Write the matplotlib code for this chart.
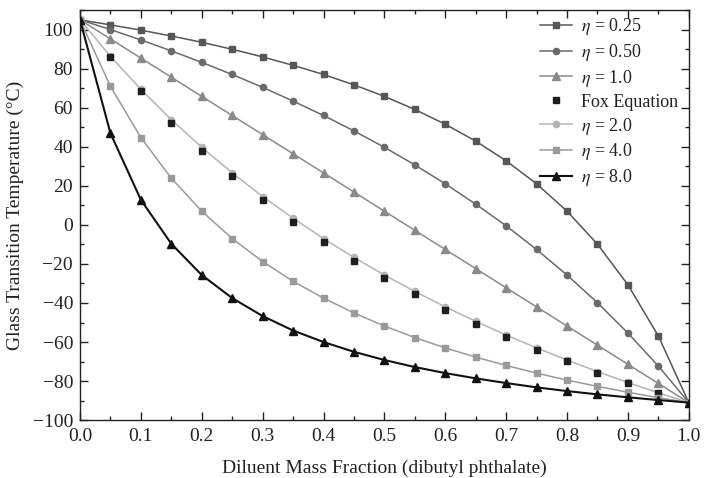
import numpy as np
import matplotlib
matplotlib.use("Agg")
import matplotlib.pyplot as plt
from matplotlib.ticker import MultipleLocator, FormatStrFormatter

plt.rcParams['font.family'] = ['Liberation Serif', 'DejaVu Serif']
plt.rcParams['mathtext.fontset'] = 'stix'

# ----------------------------
# data
# ----------------------------
w = [0.0, 0.05, 0.1, 0.15, 0.2, 0.25, 0.3, 0.35, 0.4, 0.45, 0.5,
     0.55, 0.6, 0.65, 0.7, 0.75, 0.8, 0.85, 0.9, 0.95, 1.0]

eta_025 = [105, 102.4, 99.7, 96.7, 93.5, 89.9, 86.0, 81.7, 77.0, 71.7, 65.8,
           59.1, 51.5, 42.9, 32.8, 21.0, 7.0, -9.9, -30.7, -56.9, -91]
eta_050 = [105, 100.0, 94.7, 89.1, 83.2, 77.0, 70.4, 63.4, 56.0, 48.1, 39.7,
           30.7, 21.0, 10.6, -0.5, -12.6, -25.7, -39.9, -55.4, -72.3, -91]
eta_100 = [105, 95.2, 85.4, 75.6, 65.8, 56.0, 46.2, 36.4, 26.6, 16.8, 7.0,
           -2.8, -12.6, -22.4, -32.2, -42.0, -51.8, -61.6, -71.4, -81.2, -91]
eta_200 = [105, 86.3, 69.4, 53.9, 39.7, 26.6, 14.5, 3.4, -7.0, -16.7, -25.7,
           -34.1, -42.0, -49.4, -56.4, -63.0, -69.2, -75.1, -80.7, -86.0, -91]
eta_400 = [105, 70.9, 44.7, 23.9, 7.0, -7.0, -18.8, -28.9, -37.5, -45.1, -51.8,
           -57.7, -63.0, -67.7, -72.0, -75.9, -79.5, -82.7, -85.7, -88.5, -91]
eta_800 = [105, 46.9, 12.8, -9.7, -25.7, -37.5, -46.7, -54.1, -60.0, -65.0, -69.2,
           -72.8, -75.9, -78.6, -81.0, -83.2, -85.1, -86.8, -88.3, -89.7, -91]

w_fox = [0.05, 0.1, 0.15, 0.2, 0.25, 0.3, 0.35, 0.4, 0.45, 0.5,
         0.55, 0.6, 0.65, 0.7, 0.75, 0.8, 0.85, 0.9, 0.95]
fox = [85.7, 68.3, 52.4, 38.0, 24.8, 12.7, 1.5, -8.8, -18.4, -27.3,
       -35.6, -43.4, -50.6, -57.5, -63.9, -69.9, -75.6, -81.0, -86.2]

# ----------------------------
# plot
# ----------------------------
fig = plt.figure(figsize=(7.05, 4.78), dpi=100)
ax = fig.add_axes([0.1135, 0.121, 0.8635, 0.858])

ax.plot(w, eta_025, '-s', color='#565656', lw=1.1, ms=5, label=r'$\eta$ = 0.25', zorder=3)
ax.plot(w, eta_050, '-o', color='#6a6a6a', lw=1.1, ms=4.5, label=r'$\eta$ = 0.50', zorder=3)
ax.plot(w, eta_100, '-^', color='#8a8a8a', lw=1.1, ms=5.5, label=r'$\eta$ = 1.0', zorder=3)
ax.plot(w_fox, fox, 's', color='#1e1e1e', ms=5, label='Fox Equation', zorder=5)
ax.plot(w, eta_200, '-o', color='#b4b4b4', lw=1.1, ms=4.5, label=r'$\eta$ = 2.0', zorder=4)
ax.plot(w, eta_400, '-s', color='#9a9a9a', lw=1.1, ms=5, label=r'$\eta$ = 4.0', zorder=6)
ax.plot(w, eta_800, '-^', color='#111111', lw=1.5, ms=6, label=r'$\eta$ = 8.0', zorder=7)

ax.set_xlim(0, 1.0)
ax.set_ylim(-100, 110)
ax.xaxis.set_major_locator(MultipleLocator(0.1))
ax.xaxis.set_minor_locator(MultipleLocator(0.05))
ax.xaxis.set_major_formatter(FormatStrFormatter('%.1f'))
ax.set_yticks(np.arange(-100, 101, 20))
ax.yaxis.set_minor_locator(MultipleLocator(10))

ax.tick_params(which='both', direction='in', top=True, right=True, labelsize=14, colors='#222222')
ax.tick_params(which='major', length=6, width=1)
ax.tick_params(which='minor', length=3, width=1)
ax.tick_params(axis='x', which='major', pad=6)
ax.tick_params(axis='y', which='major', pad=5)
for s in ax.spines.values():
    s.set_linewidth(1.0)
    s.set_color('#222222')

ax.set_xlabel("Diluent Mass Fraction (dibutyl phthalate)", fontsize=14, color='#222222', labelpad=10)
ax.set_ylabel("Glass Transition Temperature (°C)", fontsize=14, color='#222222', labelpad=6)

ax.legend(loc='upper right', frameon=False, fontsize=13, handlelength=1.8,
          labelspacing=0.27, handletextpad=0.5, borderaxespad=0.0,
          bbox_to_anchor=(0.995, 1.003), labelcolor='#222222')

fig.savefig("out.png", dpi=100)
